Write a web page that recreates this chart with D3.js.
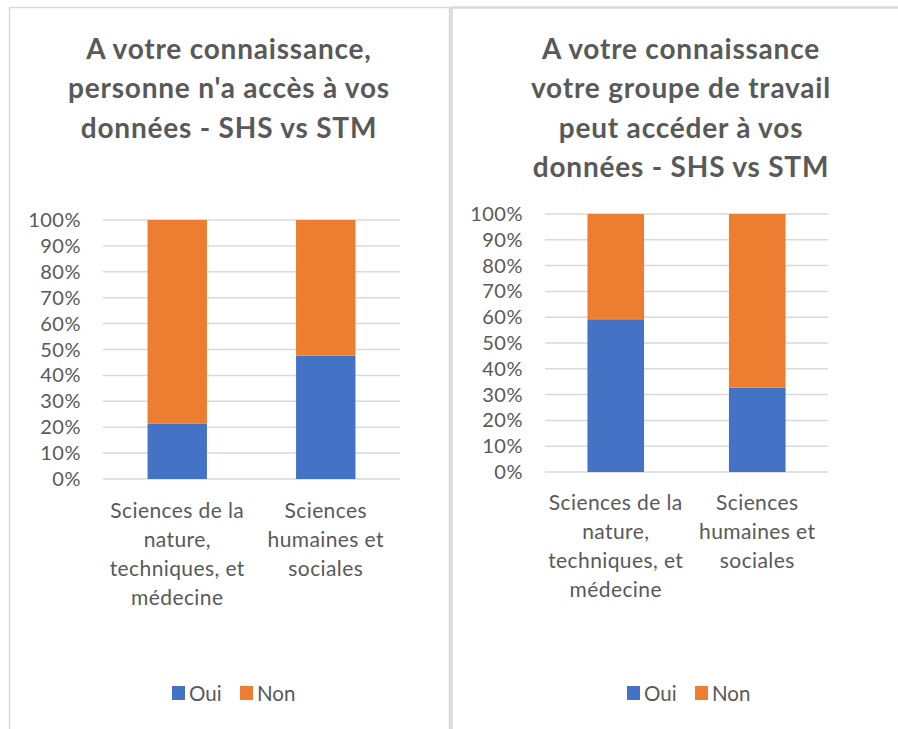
<!DOCTYPE html>
<html>
<head>
<meta charset="utf-8">
<script src="https://cdn.jsdelivr.net/npm/d3@7"></script>
<style>
  body { margin: 0; background: #fff; }
  svg { display: block; }
  text { font-family: Lato, "Open Sans", sans-serif; fill: #595959; }
</style>
</head>
<body>
<svg id="canvas" width="898" height="729"></svg>
<script>
// data
let categories = [
  ["Sciences de la", "nature,", "techniques, et", "médecine"],
  ["Sciences", "humaines et", "sociales"]
]
let series = ["Oui", "Non"]
let ouiLeft = [0.213, 0.476]
let ouiRight = [0.592, 0.327]
let titleLeft = ["A votre connaissance,", "personne n'a accès à vos", "données - SHS vs STM"]
let titleRight = ["A votre connaissance", "votre groupe de travail", "peut accéder à vos", "données - SHS vs STM"]
let ticks = [0, 0.1, 0.2, 0.3, 0.4, 0.5, 0.6, 0.7, 0.8, 0.9, 1]

let colors = { Oui: "#4472C4", Non: "#ED7D31" }

let svg = d3.select('#canvas')

// panel borders
svg.append('rect').attr('x', 9.5).attr('y', 7.5).attr('width', 440).attr('height', 740)
   .attr('fill', 'none').attr('stroke', '#d9d9d9').attr('stroke-width', 1.5)
svg.append('rect').attr('x', 451.5).attr('y', 7.5).attr('width', 470).attr('height', 740)
   .attr('fill', 'none').attr('stroke', '#d9d9d9').attr('stroke-width', 2.5)

let drawChart = (cfg) => {
  let g = svg.append('g')

  // title
  g.append('text')
   .attr('text-anchor', 'middle')
   .style('font-weight', 'bold')
   .style('font-size', '28px')
   .style('letter-spacing', '0.8px')
   .selectAll('tspan')
   .data(cfg.title)
   .enter()
   .append('tspan')
   .attr('x', cfg.titleX)
   .attr('y', (d, i) => cfg.titleY + i * 39.3)
   .text(d => d)

  let y = d3.scaleLinear().domain([0, 1]).range([cfg.bottom, cfg.top])
  let x = d3.scaleBand().domain([0, 1]).range([cfg.left, cfg.right])

  // gridlines
  g.selectAll('line.grid')
   .data(ticks)
   .enter()
   .append('line')
   .attr('x1', cfg.left).attr('x2', cfg.right)
   .attr('y1', d => y(d)).attr('y2', d => y(d))
   .attr('stroke', '#d9d9d9').attr('stroke-width', 1.5)

  // y tick labels
  g.selectAll('text.tick')
   .data(ticks)
   .enter()
   .append('text')
   .attr('x', cfg.left - 22)
   .attr('y', d => y(d) + 7)
   .attr('text-anchor', 'end')
   .style('font-size', '20px')
   .style('letter-spacing', '0.5px')
   .text(d => d3.format('.0%')(d))

  // stacked bars
  let stacked = cfg.oui.map((v, i) => ({ i: i, Oui: v, Non: 1 - v }))
  let layers = d3.stack().keys(series)(stacked)
  let bw = x.bandwidth() * 0.4

  g.selectAll('g.layer')
   .data(layers)
   .enter()
   .append('g')
   .attr('fill', d => colors[d.key])
   .selectAll('rect')
   .data(d => d)
   .enter()
   .append('rect')
   .attr('x', d => x(d.data.i) + (x.bandwidth() - bw) / 2)
   .attr('width', bw)
   .attr('y', d => y(d[1]))
   .attr('height', d => y(d[0]) - y(d[1]))

  // category labels
  categories.forEach((lines, i) => {
    g.append('text')
     .attr('text-anchor', 'middle')
     .style('font-size', '21px')
     .style('letter-spacing', '0.4px')
     .selectAll('tspan')
     .data(lines)
     .enter()
     .append('tspan')
     .attr('x', x(i) + x.bandwidth() / 2)
     .attr('y', (d, k) => cfg.labelY + k * 29)
     .text(d => d)
  })

  // legend
  let leg = g.append('g').attr('transform', 'translate(' + cfg.legendX + ',' + cfg.legendY + ')')
  series.forEach((s, i) => {
    let lx = i * 68
    leg.append('rect').attr('x', lx).attr('y', -7).attr('width', 13).attr('height', 14).attr('fill', colors[s])
    leg.append('text').attr('x', lx + 17).attr('y', 7.5).style('font-size', '20.5px').text(s)
  })
}

drawChart({
  title: titleLeft, titleX: 229, titleY: 59,
  left: 103, right: 400, top: 220, bottom: 479,
  oui: ouiLeft, labelY: 518, legendX: 172, legendY: 693
})

drawChart({
  title: titleRight, titleX: 681, titleY: 59,
  left: 545, right: 828, top: 214, bottom: 472,
  oui: ouiRight, labelY: 510, legendX: 627, legendY: 693
})
</script>
</body>
</html>
